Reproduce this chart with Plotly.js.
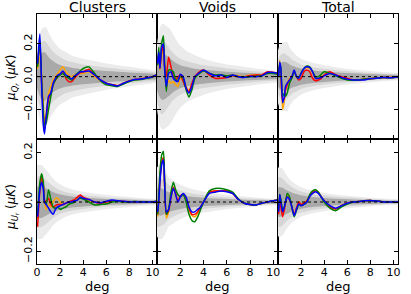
<!DOCTYPE html>
<html><head><meta charset="utf-8">
<script src="https://cdn.plot.ly/plotly-3.0.1.min.js"></script>
<style>html,body{margin:0;padding:0;background:#fff}#chart{width:411px;height:294px}</style>
</head><body><div id="chart"></div>
<script>
// panel titles and axis labels
const colTitles = ["Clusters", "Voids", "Total"];
const rowLabels = ["<i>μ</i><sub><i>Q<sub>r</sub></i></sub> (<i>μK</i>)", "<i>μ</i><sub><i>U<sub>r</sub></i></sub> (<i>μK</i>)"];
const xLabel = "deg";
const seriesColors = ["orange", "red", "green", "blue"];

// x sample positions for measured curves (deg)
const X = [0.05,0.15,0.25,0.4,0.55,0.65,0.8,1.0,1.2,1.4,1.6,1.8,2.0,2.25,2.5,2.75,3.0,3.25,3.5,3.75,4.0,4.5,5.0,5.5,6.0,6.5,7.0,7.5,8.0,8.5,9.0,9.5,10.0,10.4];

// Q_r, Clusters
const qClustersOrange = [0.05,0.10,0.12,0.0,-0.18,-0.28,-0.22,-0.10,-0.06,-0.02,0.0,0.02,0.04,0.06,0.03,0.01,0.0,0.01,0.02,0.02,0.02,0.03,0.0,-0.025,-0.04,-0.05,-0.055,-0.04,-0.025,-0.015,-0.012,-0.006,0.0,0.012];
const qClustersRed    = [0.07,0.15,0.20,-0.03,-0.25,-0.32,-0.25,-0.14,-0.10,-0.05,-0.02,0.0,0.015,0.03,-0.01,-0.03,-0.03,-0.01,0.01,0.025,0.03,0.045,0.01,-0.02,-0.04,-0.05,-0.055,-0.04,-0.027,-0.017,-0.014,-0.008,0.0,0.01];
const qClustersGreen  = [0.06,0.15,0.22,-0.02,-0.22,-0.30,-0.28,-0.20,-0.12,-0.05,-0.02,0.0,0.01,0.02,0.0,-0.01,-0.02,0.0,0.02,0.035,0.05,0.06,0.02,-0.025,-0.05,-0.055,-0.06,-0.045,-0.03,-0.02,-0.018,-0.01,-0.002,0.01];
const qClustersBlue   = [0.08,0.18,0.26,-0.05,-0.30,-0.35,-0.24,-0.12,-0.10,-0.04,-0.01,0.01,0.016,0.035,0.01,0.0,-0.015,0.005,0.015,0.03,0.03,0.035,0.01,-0.02,-0.04,-0.05,-0.057,-0.04,-0.027,-0.016,-0.015,-0.008,0.0,0.01];
// Q_r, Voids
const qVoidsOrange = [0.12,0.10,0.04,0.12,0.18,0.06,-0.07,-0.02,-0.04,-0.03,-0.05,-0.06,-0.01,-0.02,-0.06,-0.09,-0.05,0.0,0.015,0.03,0.04,0.02,0.01,0.01,0.0,0.01,0.005,0.0,0.01,0.01,0.01,0.025,0.025,0.02];
const qVoidsRed    = [0.10,0.14,0.05,0.15,0.19,0.07,0.0,0.12,0.06,0.0,-0.02,0.0,0.01,-0.03,-0.07,-0.09,-0.04,0.0,0.02,0.035,0.04,0.01,-0.01,-0.01,-0.005,0.005,0.0,0.0,0.005,0.01,0.01,0.03,0.025,0.02];
const qVoidsGreen  = [0.07,0.18,0.06,0.20,0.25,0.08,-0.09,0.04,0.04,0.03,-0.02,-0.02,0.0,-0.01,-0.08,-0.125,-0.08,-0.01,0.01,0.025,0.035,0.02,0.01,0.012,0.005,0.008,0.0,-0.002,0.0,0.002,0.005,0.02,0.02,0.015];
const qVoidsBlue   = [0.08,0.15,0.05,0.18,0.20,0.05,-0.06,0.02,0.03,-0.01,-0.025,-0.03,0.015,0.0,-0.07,-0.10,-0.06,0.0,0.015,0.03,0.04,0.02,0.005,0.01,-0.005,0.01,0.0,-0.005,0.002,0.0,0.005,0.025,0.025,0.02];
// Q_r, Total
const qTotalOrange = [0.02,0.10,0.0,-0.20,-0.15,-0.08,-0.04,-0.01,0.0,0.035,0.0,-0.01,0.02,0.05,0.055,0.05,0.025,-0.01,-0.01,0.0,0.01,0.02,0.01,-0.005,-0.015,-0.02,-0.02,-0.015,-0.012,-0.01,-0.005,-0.005,-0.005,0.0];
const qTotalRed    = [0.01,0.07,0.03,-0.14,-0.13,-0.08,-0.05,-0.02,0.0,0.03,0.0,-0.02,-0.01,0.03,0.04,0.03,-0.01,-0.025,-0.02,-0.01,0.01,0.03,0.01,0.0,-0.01,-0.02,-0.02,-0.015,-0.012,-0.01,-0.005,-0.005,-0.005,0.0];
const qTotalGreen  = [0.0,0.08,0.05,-0.12,-0.10,-0.12,-0.10,-0.04,-0.01,0.03,0.0,-0.01,0.02,0.05,0.065,0.06,0.03,0.0,0.0,0.015,0.03,0.02,0.005,-0.01,-0.02,-0.022,-0.02,-0.015,-0.012,-0.01,-0.005,-0.006,-0.005,0.0];
const qTotalBlue   = [0.0,0.09,0.05,-0.16,-0.12,-0.06,-0.04,-0.02,0.0,0.04,0.0,-0.01,0.02,0.05,0.06,0.055,0.03,-0.01,-0.01,-0.005,0.005,0.02,0.01,-0.005,-0.015,-0.02,-0.02,-0.02,-0.012,-0.01,-0.005,-0.006,-0.005,0.0];
// U_r, Clusters
const uClustersOrange = [-0.07,0.0,0.05,0.09,0.06,0.0,-0.03,-0.01,-0.02,0.0,0.015,0.015,0.0,-0.01,-0.005,0.0,0.0,0.005,0.015,0.022,0.015,0.005,0.0,-0.005,0.0,0.005,0.003,0.002,0.0,0.001,0.0,0.0,0.0,0.003];
const uClustersRed    = [-0.10,-0.02,0.05,0.10,0.07,0.01,0.0,0.015,-0.01,-0.02,-0.015,-0.01,-0.01,-0.01,-0.005,0.0,0.005,0.01,0.02,0.028,0.02,0.01,0.0,-0.005,0.0,0.005,0.005,0.002,0.0,0.001,0.0,0.0,0.0,0.003];
const uClustersGreen  = [-0.05,0.02,0.08,0.115,0.08,0.0,-0.01,0.05,0.01,-0.02,-0.025,-0.02,-0.03,-0.025,-0.02,-0.01,-0.005,0.0,0.01,0.015,0.012,0.0,-0.012,-0.01,-0.008,0.0,0.003,0.0,0.0,0.002,0.0,0.0,0.0,0.003];
const uClustersBlue   = [-0.06,0.0,0.05,0.08,0.05,0.0,-0.01,-0.025,-0.04,-0.05,-0.03,-0.02,-0.015,-0.01,-0.005,0.0,0.0,0.005,0.008,0.02,0.015,0.01,0.0,-0.003,0.003,0.008,0.005,0.003,0.0,0.001,0.0,0.0,0.0,0.003];
// U_r, Voids
const uVoidsOrange = [-0.06,0.0,0.09,0.16,0.18,0.07,-0.066,-0.04,0.02,0.06,0.03,0.01,0.02,0.03,0.01,-0.03,-0.055,-0.06,-0.045,-0.02,0.0,0.04,0.045,0.045,0.045,0.035,0.01,-0.005,-0.01,-0.012,-0.005,0.0,0.005,0.008];
const uVoidsRed    = [-0.05,0.01,0.09,0.16,0.18,0.08,-0.05,-0.035,0.02,0.06,0.035,0.0,0.025,0.03,0.01,-0.025,-0.05,-0.05,-0.04,-0.02,0.0,0.04,0.045,0.045,0.045,0.035,0.01,-0.005,-0.01,-0.012,-0.005,0.0,0.005,0.008];
const uVoidsGreen  = [-0.05,0.02,0.12,0.19,0.205,0.10,-0.05,-0.03,0.04,0.08,0.05,0.03,0.02,0.03,0.0,-0.05,-0.075,-0.08,-0.06,-0.03,0.0,0.045,0.055,0.055,0.05,0.04,0.012,-0.005,-0.01,-0.012,-0.005,0.0,0.005,0.008];
const uVoidsBlue   = [-0.04,0.0,0.08,0.15,0.17,0.08,-0.04,-0.03,0.02,0.055,0.03,0.0,0.02,0.035,0.02,-0.02,-0.04,-0.04,-0.03,-0.02,0.0,0.035,0.04,0.045,0.042,0.035,0.01,-0.005,-0.01,-0.012,-0.005,0.0,0.005,0.008];
// U_r, Total
const uTotalOrange = [-0.03,0.02,-0.01,-0.05,-0.03,0.0,0.03,0.015,-0.02,-0.05,-0.03,0.0,-0.01,-0.005,0.005,0.025,0.04,0.048,0.04,0.02,0.005,-0.02,-0.028,-0.015,-0.005,0.0,0.002,0.005,0.006,0.004,0.001,0.0,0.0,0.0];
const uTotalRed    = [-0.05,0.02,-0.02,-0.06,-0.03,0.0,0.02,0.01,-0.02,-0.05,-0.025,0.0,-0.01,-0.005,0.005,0.025,0.04,0.045,0.038,0.02,0.005,-0.02,-0.028,-0.015,-0.005,0.0,0.002,0.005,0.006,0.004,0.001,0.0,0.0,0.0];
const uTotalGreen  = [-0.03,0.03,0.01,-0.03,-0.02,0.0,0.035,0.02,-0.02,-0.06,-0.035,-0.01,-0.015,-0.01,0.0,0.03,0.045,0.05,0.04,0.02,0.0,-0.025,-0.035,-0.02,-0.008,0.0,0.002,0.005,0.006,0.004,0.001,0.0,0.0,0.0];
const uTotalBlue   = [-0.04,0.03,0.0,-0.04,-0.02,0.0,0.02,0.01,-0.02,-0.055,-0.03,-0.008,-0.015,-0.01,0.0,0.022,0.035,0.042,0.035,0.02,0.005,-0.015,-0.025,-0.015,-0.005,0.0,0.002,0.005,0.006,0.004,0.001,0.0,0.0,0.0];

// x positions for the confidence bands (deg) and half-widths (outer, middle, inner)
const BX = [0,0.2,0.4,0.6,0.8,1.0,1.3,1.6,2.0,2.5,3,4,5,6,7,8,9,10,10.4];
const qClustersOuter = [0.18,0.25,0.29,0.30,0.30,0.27,0.23,0.20,0.17,0.15,0.13,0.11,0.095,0.08,0.07,0.06,0.05,0.04,0.035];
const qClustersMid   = [0.12,0.17,0.21,0.22,0.21,0.19,0.16,0.14,0.12,0.10,0.09,0.075,0.065,0.055,0.048,0.04,0.034,0.028,0.026];
const qClustersInner = [0.07,0.11,0.14,0.15,0.14,0.12,0.10,0.085,0.072,0.062,0.055,0.046,0.04,0.034,0.03,0.026,0.022,0.018,0.017];
const qVoidsOuter = [0.2,0.28,0.32,0.32,0.31,0.30,0.27,0.23,0.19,0.16,0.14,0.11,0.09,0.075,0.065,0.055,0.045,0.038,0.035];
const qVoidsMid   = [0.14,0.2,0.23,0.22,0.2,0.18,0.15,0.13,0.11,0.095,0.085,0.07,0.06,0.05,0.043,0.036,0.03,0.025,0.023];
const qVoidsInner = [0.08,0.12,0.14,0.14,0.13,0.12,0.10,0.085,0.07,0.06,0.052,0.043,0.036,0.03,0.026,0.022,0.019,0.016,0.015];
const qTotalOuter = [0.16,0.20,0.21,0.21,0.21,0.18,0.15,0.13,0.11,0.095,0.085,0.07,0.058,0.048,0.04,0.034,0.028,0.024,0.022];
const qTotalMid   = [0.1,0.13,0.14,0.14,0.13,0.12,0.1,0.09,0.075,0.065,0.058,0.048,0.04,0.034,0.029,0.024,0.02,0.017,0.016];
const qTotalInner = [0.06,0.08,0.09,0.09,0.085,0.075,0.065,0.058,0.05,0.043,0.038,0.032,0.027,0.022,0.019,0.016,0.013,0.011,0.01];
const uClustersOuter = [0.15,0.15,0.15,0.14,0.13,0.12,0.1,0.085,0.072,0.06,0.052,0.042,0.035,0.029,0.024,0.02,0.016,0.013,0.012];
const uClustersMid   = [0.1,0.105,0.1,0.095,0.088,0.08,0.068,0.058,0.048,0.04,0.035,0.028,0.023,0.019,0.016,0.013,0.011,0.009,0.008];
const uClustersInner = [0.06,0.065,0.065,0.06,0.055,0.05,0.043,0.037,0.031,0.026,0.022,0.018,0.015,0.012,0.01,0.009,0.007,0.006,0.006];
const uVoidsOuter = [0.14,0.15,0.15,0.14,0.12,0.1,0.09,0.08,0.07,0.06,0.053,0.043,0.035,0.029,0.024,0.02,0.016,0.013,0.012];
const uVoidsMid   = [0.1,0.1,0.095,0.09,0.08,0.07,0.062,0.055,0.047,0.04,0.035,0.028,0.023,0.019,0.016,0.013,0.011,0.009,0.008];
const uVoidsInner = [0.055,0.055,0.055,0.05,0.045,0.04,0.036,0.032,0.028,0.024,0.021,0.017,0.014,0.012,0.01,0.008,0.007,0.006,0.005];
const uTotalOuter = [0.14,0.14,0.135,0.12,0.105,0.093,0.08,0.07,0.06,0.052,0.046,0.037,0.03,0.025,0.021,0.017,0.014,0.012,0.011];
const uTotalMid   = [0.1,0.1,0.095,0.085,0.075,0.068,0.058,0.05,0.043,0.037,0.032,0.026,0.021,0.018,0.015,0.012,0.01,0.008,0.008];
const uTotalInner = [0.06,0.06,0.058,0.052,0.047,0.043,0.037,0.032,0.027,0.023,0.02,0.016,0.013,0.011,0.009,0.008,0.006,0.005,0.005];

const xTickValsFirst = [0,2,4,6,8,10];
const xTickValsOther = [2,4,6,8,10];
const yTickVals = [-0.2,0.0,0.2];
const yTickText = ["\u22120.2","0.0","0.2"];

const panels = [
  {lines:[qClustersOrange,qClustersRed,qClustersGreen,qClustersBlue], bands:[qClustersOuter,qClustersMid,qClustersInner]},
  {lines:[qVoidsOrange,qVoidsRed,qVoidsGreen,qVoidsBlue], bands:[qVoidsOuter,qVoidsMid,qVoidsInner]},
  {lines:[qTotalOrange,qTotalRed,qTotalGreen,qTotalBlue], bands:[qTotalOuter,qTotalMid,qTotalInner]},
  {lines:[uClustersOrange,uClustersRed,uClustersGreen,uClustersBlue], bands:[uClustersOuter,uClustersMid,uClustersInner]},
  {lines:[uVoidsOrange,uVoidsRed,uVoidsGreen,uVoidsBlue], bands:[uVoidsOuter,uVoidsMid,uVoidsInner]},
  {lines:[uTotalOrange,uTotalRed,uTotalGreen,uTotalBlue], bands:[uTotalOuter,uTotalMid,uTotalInner]}
];
const bandColors = ["#ebebeb","#d6d6d6","#a9a9a9"];

const W = 411, H = 294;
const colPx = [[37,157],[157,278],[278,398]];
const rowPx = [[14,139],[139,264]];
const yRanges = [[-0.381,0.383],[-0.2515,0.2556]];
const FONT = "DejaVu Sans, sans-serif";

const data = [];
const layout = {
  width: W, height: H, margin:{l:0,r:0,t:0,b:0},
  paper_bgcolor:"#fff", plot_bgcolor:"#fff", showlegend:false,
  font:{family:FONT, color:"#000", size:11},
  annotations:[], shapes:[]
};

panels.forEach((p, i) => {
  const r = Math.floor(i/3), c = i%3;
  const xa = i===0 ? "x" : "x" + (i+1), ya = i===0 ? "y" : "y" + (i+1);
  const xk = i===0 ? "xaxis" : "xaxis" + (i+1), yk = i===0 ? "yaxis" : "yaxis" + (i+1);
  p.bands.forEach((w, k) => {
    data.push({x:BX, y:w.map(v=>-v), xaxis:xa, yaxis:ya, mode:"lines", line:{width:0, shape:"spline"}, hoverinfo:"skip"});
    data.push({x:BX, y:w, xaxis:xa, yaxis:ya, mode:"lines", line:{width:0, shape:"spline"}, fill:"tonexty", fillcolor:bandColors[k], hoverinfo:"skip"});
  });
  p.lines.forEach((s, k) => {
    data.push({x:X, y:s, xaxis:xa, yaxis:ya, mode:"lines", line:{color:seriesColors[k], width:1.5, shape:"spline", smoothing:0.6}});
  });
  layout[xk] = {
    domain:[colPx[c][0]/W, colPx[c][1]/W], anchor:ya, range:[0,10.4],
    showgrid:false, zeroline:false, showline:true, linecolor:"#000", linewidth:1, mirror:"ticks",
    ticks:"inside", ticklen:4, tickcolor:"#000", tickvals: c===0 ? xTickValsFirst : xTickValsOther,
    showticklabels: r===1, tickfont:{size:11, family:FONT}, ticklabelstandoff:-2
  };
  layout[yk] = {
    domain:[1-rowPx[r][1]/H, 1-rowPx[r][0]/H], anchor:xa, range:yRanges[r],
    showgrid:false, zeroline:false, showline:true, linecolor:"#000", linewidth:1, mirror:"ticks",
    ticks:"inside", ticklen:4, tickcolor:"#000", tickvals:yTickVals, ticktext:yTickText,
    showticklabels: c===0, tickangle:-90, tickfont:{size:11, family:FONT}
  };
  layout.shapes.push({type:"line", xref:xa+" domain", yref:ya, x0:0, x1:1, y0:0, y1:0,
    line:{color:"#000", width:1, dash:"dot"}});
});

colTitles.forEach((t, c) => {
  layout.annotations.push({text:t, xref:"paper", yref:"paper", x:(colPx[c][0]+colPx[c][1])/2/W, y:1-7/H,
    xanchor:"center", yanchor:"middle", showarrow:false, font:{size:14, family:FONT}});
  layout.annotations.push({text:xLabel, xref:"paper", yref:"paper", x:(colPx[c][0]+colPx[c][1])/2/W, y:1-286/H,
    xanchor:"center", yanchor:"middle", showarrow:false, font:{size:13, family:FONT}});
});
rowLabels.forEach((t, r) => {
  layout.annotations.push({text:t, xref:"paper", yref:"paper", x:12/W, y:1-(r===0?78:207)/H,
    xanchor:"center", yanchor:"middle", textangle:-90, showarrow:false, font:{size:12, family:FONT}});
});

Plotly.newPlot("chart", data, layout, {staticPlot:true, displayModeBar:false});
</script></body></html>
